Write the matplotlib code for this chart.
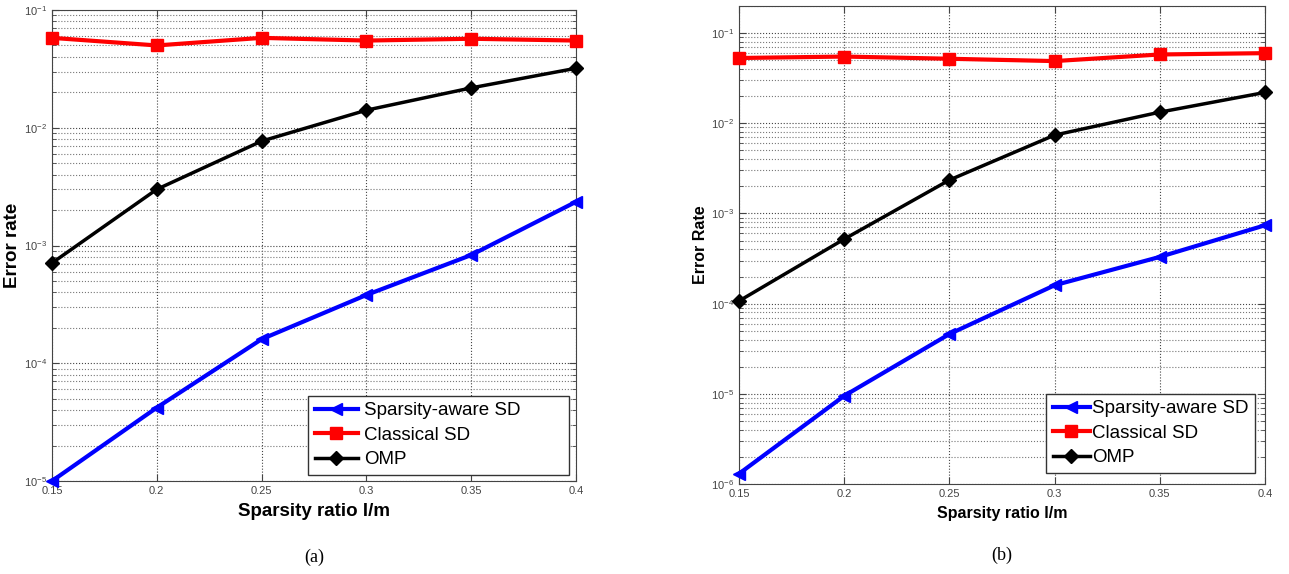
import numpy as np
import matplotlib
matplotlib.use('Agg')
import matplotlib.pyplot as plt
from matplotlib.ticker import LogLocator, NullFormatter, FixedLocator

# sparsity ratio l/m
x = [0.15, 0.2, 0.25, 0.3, 0.35, 0.4]
xtick_labels = ['0.15', '0.2', '0.25', '0.3', '0.35', '0.4']

# panel (a)
a_sparse = [1.0e-5, 4.2e-5, 1.6e-4, 3.8e-4, 8.3e-4, 2.35e-3]
a_classic = [0.058, 0.050, 0.058, 0.055, 0.057, 0.055]
a_omp = [7.1e-4, 3.0e-3, 7.7e-3, 0.0141, 0.0218, 0.032]

# panel (b)
b_sparse = [1.3e-6, 9.5e-6, 4.6e-5, 1.6e-4, 3.3e-4, 7.4e-4]
b_classic = [0.053, 0.055, 0.052, 0.049, 0.058, 0.060]
b_omp = [1.07e-4, 5.2e-4, 2.35e-3, 7.4e-3, 0.0133, 0.022]

W, H = 1289, 574
fig = plt.figure(figsize=(W / 100, H / 100), dpi=100)
plt.rcParams['font.family'] = ['Liberation Sans', 'DejaVu Sans']


def make_axes(l, t, r, b):
    return fig.add_axes([l / W, (H - b) / H, (r - l) / W, (b - t) / H])


def draw(ax, s, c, o, ylim, ylabel, label_fs, hlen, hpad, legbox):
    ax.plot(x, s, color='#0000ff', lw=3, marker='<', ms=9, label='Sparsity-aware SD',
            clip_on=False, zorder=3)
    ax.plot(x, c, color='#ff0000', lw=3, marker='s', ms=8, label='Classical SD',
            clip_on=False, zorder=3)
    ax.plot(x, o, color='black', lw=2.5, marker='D', ms=7, label='OMP',
            clip_on=False, zorder=3)
    ax.set_yscale('log')
    ax.set_xlim(0.15, 0.4)
    ax.set_ylim(*ylim)
    ax.xaxis.set_major_locator(FixedLocator(x))
    ax.set_xticklabels(xtick_labels)
    ax.yaxis.set_major_locator(LogLocator(base=10, numticks=10))
    ax.yaxis.set_minor_locator(LogLocator(base=10, subs=np.arange(2, 10), numticks=20))
    ax.yaxis.set_minor_formatter(NullFormatter())
    ax.grid(True, which='major', ls=':', color='#444444', lw=0.8)
    ax.grid(True, which='minor', axis='y', ls=':', color='#777777', lw=0.8)
    ax.tick_params(which='both', direction='in', top=True, right=True,
                   labelsize=8, labelcolor='#444444', color='#444444')
    ax.tick_params(which='major', length=5)
    ax.tick_params(which='minor', length=3)
    for sp in ax.spines.values():
        sp.set_color('#444444')
    ax.set_xlabel('Sparsity ratio l/m', fontsize=label_fs, fontweight='bold', labelpad=5)
    ax.set_ylabel(ylabel, fontsize=label_fs, fontweight='bold', labelpad=2)
    leg = ax.legend(loc='lower left', bbox_to_anchor=legbox, mode='expand',
                    borderaxespad=0, fontsize=13.5, fancybox=False,
                    framealpha=1, edgecolor='#333333',
                    handlelength=hlen, handletextpad=hpad, labelspacing=0.4,
                    borderpad=0.35)
    leg.get_frame().set_linewidth(1.0)


ax_a = make_axes(52, 10, 576, 481)
draw(ax_a, a_sparse, a_classic, a_omp, (1e-5, 1e-1), 'Error rate', 13.5, 2.3, 0.35,
     (0.4885, 0.0127, 0.498, 0.164))

ax_b = make_axes(739, 6, 1265, 484)
draw(ax_b, b_sparse, b_classic, b_omp, (1e-6, 0.2), 'Error Rate', 11.5, 2.0, 0.1,
     (0.5837, 0.023, 0.397, 0.161))

fig.text(314 / W, 1 - 557 / H, '(a)', family='Liberation Serif', fontsize=13,
         ha='center', va='center')
fig.text(1002 / W, 1 - 555 / H, '(b)', family='Liberation Serif', fontsize=13,
         ha='center', va='center')

fig.savefig('out.png', dpi=100)
